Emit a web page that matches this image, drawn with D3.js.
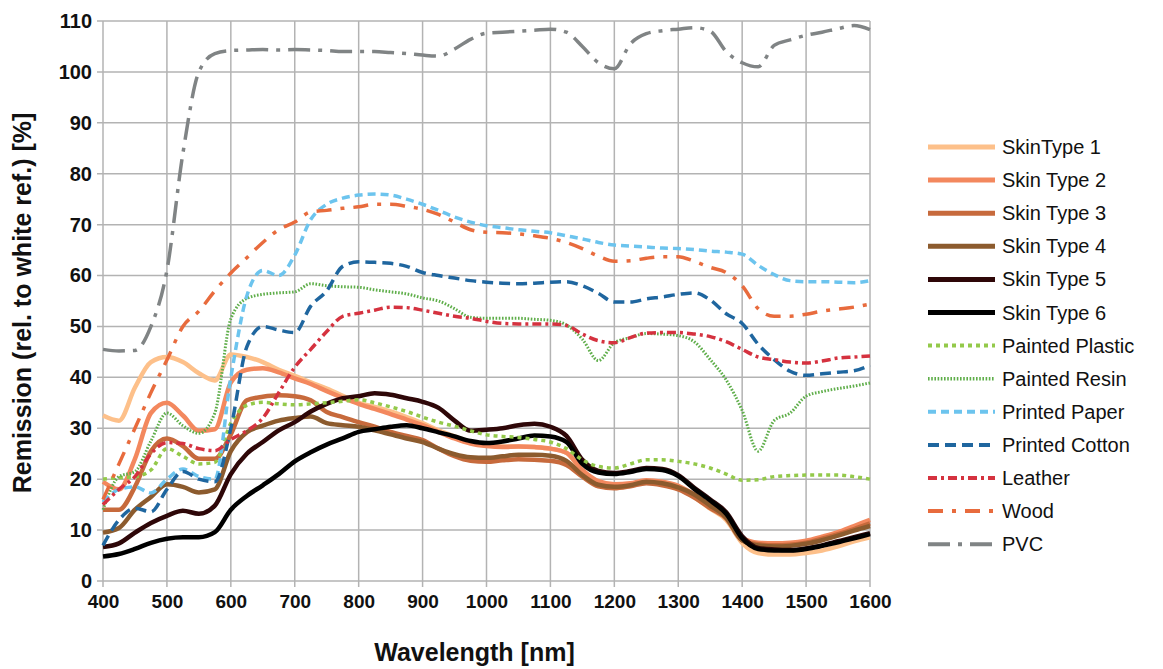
<!DOCTYPE html>
<html>
<head>
<meta charset="utf-8">
<script src="https://cdn.jsdelivr.net/npm/d3@7"></script>
<style>
  body { margin: 0; background: #fff; }
  text { font-family: "Liberation Sans", Arial, sans-serif; }
</style>
</head>
<body>
<div id="chart-container"></div>
<script>
const width = 1163;
const height = 669;
const margin = {top: 21, left: 103, right: 293, bottom: 88};

/* ----------------------- data section ----------------------- */
// wavelength grid in nm, every 25 nm
const wavelengths = d3.range(400, 1601, 25);

const skinType1 = [32.5, 31.5, 38, 43, 44, 43, 40.8, 39.4, 44.5, 44, 43, 41.5, 40.3, 39, 37.8, 36.4, 35, 34.2, 33.3, 32.2, 31, 29.6, 28.4, 27.3, 26.7, 26.4, 26.4, 26.3, 26, 25.2, 21.5, 19.2, 18.5, 18.8, 19.4, 19.1, 18.2, 16.5, 14.2, 12, 7.5, 5.5, 5.2, 5.2, 5.5, 6, 6.8, 7.8, 8.6];
const skinType2 = [19.5, 18, 24, 33, 35, 32.5, 29.5, 29.8, 39, 41.5, 41.8, 41, 39.8, 38.7, 37.3, 36, 34.8, 33.8, 32.8, 31.7, 30.6, 29.3, 28, 27, 26.5, 26.3, 26.4, 26.3, 26, 25.2, 21.8, 19.6, 19, 19.2, 19.8, 19.5, 18.7, 17, 14.8, 12.8, 8.5, 7.5, 7.4, 7.5, 7.9, 8.7, 9.6, 10.8, 12];
const skinType3 = [14, 14, 18.5, 25.5, 28, 26.5, 24, 24, 28.8, 35.5, 36.2, 36.5, 36.3, 35.5, 33.2, 32.2, 31.2, 30.3, 29.3, 28.5, 27.7, 26, 24.5, 23.6, 23.4, 23.7, 23.9, 23.8, 23.6, 22.8, 20.5, 18.6, 18.2, 18.6, 19.2, 18.8, 18, 16.4, 14.3, 12.3, 8, 7.2, 7, 7.1, 7.5, 8.3, 9.2, 10.2, 11.3];
const skinType4 = [9.5, 10.4, 14, 16.5, 19, 18.5, 17.4, 18, 25.5, 29.2, 30.5, 31.5, 32, 32.3, 31, 30.6, 30.3, 29.6, 28.8, 28, 27.3, 26, 24.9, 24.3, 24.2, 24.5, 24.8, 24.8, 24.6, 23.6, 20.8, 18.9, 18.5, 18.8, 19.5, 19.2, 18.4, 17, 14.8, 12.5, 8, 7, 6.8, 6.9, 7.3, 8, 8.9, 9.9, 10.8];
const skinType5 = [6.7, 7.4, 9.5, 11.4, 12.8, 13.8, 13.2, 14.8, 21, 25, 27.3, 29.6, 31.2, 33.3, 34.8, 35.9, 36.3, 36.9, 36.6, 35.9, 35.2, 34, 31.5, 29.5, 29.7, 30, 30.6, 30.9, 30.3, 28.5, 23.8, 21.6, 21.2, 21.6, 22.2, 22, 20.8, 18.3, 16, 13.5, 8.8, 6.5, 6.2, 6.1, 6.4, 7, 7.8, 8.6, 9.4];
const skinType6 = [4.8, 5.3, 6.3, 7.5, 8.3, 8.6, 8.6, 9.6, 14, 16.7, 18.8, 21, 23.5, 25.3, 26.8, 28, 29.3, 29.8, 30.3, 30.6, 30, 29.2, 28.4, 27.5, 27.1, 27.4, 28, 28.6, 28.4, 27.3, 23, 21.3, 21, 21.4, 22, 21.8, 20.6, 18.1, 15.8, 13.2, 8.4, 6.3, 6, 6, 6.3, 6.9, 7.6, 8.4, 9.2];
const paintedPlastic = [20, 20.3, 20.5, 21.8, 26, 24.5, 23, 23.3, 31, 34.5, 35.1, 34.8, 34.6, 34.8, 35, 35.3, 35.6, 35, 34.2, 33.3, 32.2, 31.2, 30.4, 29.5, 28.7, 28.4, 28.2, 27.8, 27.3, 26, 23.8, 22.5, 22.2, 23, 23.8, 23.8, 23.5, 23, 22.2, 21, 19.8, 19.9, 20.5, 20.7, 20.8, 20.8, 20.8, 20.5, 20];
const paintedResin = [14, 20.5, 21.5, 27.5, 33, 30.5, 29, 33, 51.5, 55.5, 56.3, 56.6, 56.8, 58.4, 58, 57.8, 57.7, 57.2, 56.8, 56.4, 55.6, 55, 53.5, 51.8, 51.6, 51.6, 51.6, 51.4, 51.2, 50.3, 47.5, 43.3, 46.8, 47.8, 48.6, 48.5, 48.2, 47, 43.5, 39.5, 33.5, 25.5, 31.5, 33, 36.3, 37.2, 37.8, 38.3, 38.9];
const printedPaper = [15.5, 18, 18.5, 17.3, 20, 22, 20.5, 20, 40, 56, 61, 60, 64, 71, 74, 75.2, 75.8, 76, 75.8, 75, 74, 72.8, 71.5, 70.5, 69.8, 69.4, 69, 68.7, 68.4, 67.8, 67.2, 66.5, 66, 65.8, 65.6, 65.4, 65.3, 65.1, 64.8, 64.6, 64.2, 62, 60.2, 59, 58.8, 58.8, 58.7, 58.6, 59];
const printedCotton = [7, 12, 14.3, 13.6, 18, 21.5, 20, 19.5, 30, 46, 50, 49.3, 48.8, 54, 57, 61.8, 62.7, 62.6, 62.4, 61.8, 60.6, 60, 59.5, 59, 58.7, 58.5, 58.4, 58.5, 58.7, 58.8, 58, 56.5, 54.8, 54.8, 55.4, 55.8, 56.3, 56.6, 55.2, 52.5, 50.6, 46.5, 43.5, 41.2, 40.4, 40.7, 41, 41.3, 42.4];
const leather = [15, 18, 20.5, 25, 27.2, 27, 26, 25.6, 27.8, 29.5, 32, 37, 42, 45.5, 49, 52, 52.6, 53.2, 53.8, 53.7, 53.2, 52.6, 52, 51.6, 51, 50.6, 50.5, 50.5, 50.5, 50.2, 48.5, 47.2, 46.8, 47.8, 48.7, 48.8, 48.8, 48.5, 48, 47, 45.5, 44, 43.5, 43, 42.8, 43.2, 43.8, 44, 44.2];
const wood = [16, 23, 30, 37, 43.4, 50, 53, 57, 60.5, 63.5, 66.5, 69, 70.5, 72.5, 72.8, 73.2, 73.5, 74, 74, 73.6, 73, 72, 70.5, 69, 68.5, 68.4, 68.2, 67.8, 67.3, 66.5, 65.3, 63.8, 62.8, 62.9, 63.4, 63.7, 63.7, 62.8, 61.6, 60.6, 58, 53.5, 52, 52, 52.4, 53, 53.4, 53.8, 54.4];
const pvc = [45.5, 45.2, 45.3, 50, 61, 84, 100, 103.6, 104.2, 104.3, 104.4, 104.3, 104.4, 104.3, 104.2, 104, 104, 104, 103.8, 103.6, 103.3, 103.1, 104.5, 106.4, 107.6, 107.8, 108, 108.2, 108.4, 107.8, 105, 101.8, 100.6, 105.5, 107.5, 108.1, 108.4, 108.7, 108, 104, 101.8, 101, 105.2, 106.3, 107.2, 107.8, 108.5, 109.1, 108.3];

const seriesNames = ["SkinType 1", "Skin Type 2", "Skin Type 3", "Skin Type 4", "Skin Type 5", "Skin Type 6",
  "Painted Plastic", "Painted Resin", "Printed Paper", "Printed Cotton", "Leather", "Wood", "PVC"];
const seriesValues = [skinType1, skinType2, skinType3, skinType4, skinType5, skinType6,
  paintedPlastic, paintedResin, printedPaper, printedCotton, leather, wood, pvc];

const xTicks = d3.range(400, 1601, 100);
const yTicks = d3.range(0, 111, 10);

// line styles per series (colour, width, dash)
const seriesStyles = [
  {color: "#fdc08a", w: 4.5, dash: null},
  {color: "#f3885e", w: 4.5, dash: null},
  {color: "#c76a3c", w: 4.5, dash: null},
  {color: "#8c5b2e", w: 4.5, dash: null},
  {color: "#2e0708", w: 4.5, dash: null},
  {color: "#000000", w: 4.5, dash: null},
  {color: "#93c94a", w: 3.5, dash: "4,4"},
  {color: "#5fae4a", w: 3, dash: "1.6,1.6"},
  {color: "#6cc4ee", w: 3.5, dash: "8,5"},
  {color: "#1f669f", w: 3.5, dash: "11,6"},
  {color: "#d5323f", w: 3.5, dash: "9,4,3,4"},
  {color: "#e86b3d", w: 3.5, dash: "15,9,4,9"},
  {color: "#808485", w: 3.5, dash: "22,8,4,8"}
];

const series = seriesNames.map((name, i) => ({
  name: name,
  style: seriesStyles[i],
  values: wavelengths.map((w, j) => ({w: w, v: seriesValues[i][j]}))
}));

/* ----------------------- chart section ----------------------- */
const svg = d3
  .select("#chart-container")
  .append("svg")
    .attr("width", width)
    .attr("height", height)

const plotW = width - margin.left - margin.right;
const plotH = height - margin.top - margin.bottom;

const x = d3.scaleLinear().domain([400, 1600]).range([margin.left, margin.left + plotW]);
const y = d3.scaleLinear().domain([0, 110]).range([margin.top + plotH, margin.top]);

//grid
const grid = svg.append("g").attr("class", "grid")
grid.selectAll(".vgrid")
  .data(xTicks)
  .join("line")
    .attr("x1", d => x(d)).attr("x2", d => x(d))
    .attr("y1", y(0) + 6).attr("y2", y(110))
    .attr("stroke", "#b3b3b3")
    .attr("stroke-width", 1.5)
grid.selectAll(".hgrid")
  .data(yTicks)
  .join("line")
    .attr("x1", x(400) - 6).attr("x2", x(1600))
    .attr("y1", d => y(d)).attr("y2", d => y(d))
    .attr("stroke", "#b3b3b3")
    .attr("stroke-width", 1.5)

//axes (labels only, lines come from the grid)
const xAxis = svg.append("g")
  .attr("transform", `translate(0,${y(0)})`)
  .call(d3.axisBottom(x).tickValues(xTicks).tickSize(0).tickPadding(14).tickFormat(d3.format("d")))
xAxis.select(".domain").remove();
xAxis.selectAll("text")
  .attr("font-size", 19)
  .attr("font-weight", "bold")
  .attr("fill", "#111")
  .style("font-family", "'Liberation Sans Narrow', 'Liberation Sans', Arial, sans-serif")

const yAxis = svg.append("g")
  .attr("transform", `translate(${x(400)},0)`)
  .call(d3.axisLeft(y).tickValues(yTicks).tickSize(0).tickPadding(11))
yAxis.select(".domain").remove();
yAxis.selectAll("text")
  .attr("font-size", 20)
  .attr("font-weight", "bold")
  .attr("fill", "#111")

//axis titles
svg.append("text")
  .attr("x", x(1000) - 12)
  .attr("y", 661)
  .attr("text-anchor", "middle")
  .attr("font-size", 25)
  .attr("font-weight", "bold")
  .attr("fill", "#111")
  .text("Wavelength [nm]")

svg.append("text")
  .attr("transform", `translate(31,${y(55) + 2}) rotate(-90)`)
  .attr("text-anchor", "middle")
  .attr("font-size", 25)
  .attr("font-weight", "bold")
  .attr("fill", "#111")
  .text("Remission (rel. to white ref.) [%]")

//lines
const line = d3.line()
  .x(d => x(d.w))
  .y(d => y(d.v))
  .curve(d3.curveMonotoneX);

svg.append("g")
  .selectAll("path")
  .data(series)
  .join("path")
    .attr("d", d => line(d.values))
    .attr("fill", "none")
    .attr("stroke", d => d.style.color)
    .attr("stroke-width", d => d.style.w)
    .attr("stroke-dasharray", d => d.style.dash)
    .attr("stroke-linejoin", "round")

//legend
const legend = svg.append("g").attr("class", "legend")
const legendItems = legend.selectAll("g")
  .data(series)
  .join("g")
    .attr("transform", (d, i) => `translate(928,${147 + i * 33.1})`)

legendItems.append("line")
  .attr("x1", 0).attr("x2", 67)
  .attr("stroke", d => d.style.color)
  .attr("stroke-width", d => d.style.w + 0.5)
  .attr("stroke-dasharray", d => d.style.dash)

legendItems.append("text")
  .attr("x", 74)
  .attr("dy", "0.35em")
  .attr("font-size", 20)
  .attr("fill", "#111")
  .text(d => d.name)
</script>
</body>
</html>
